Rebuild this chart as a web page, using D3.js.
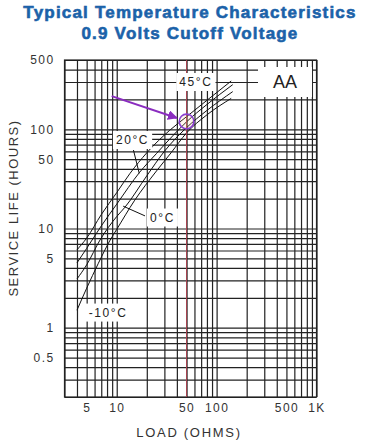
<!DOCTYPE html>
<html>
<head>
<meta charset="utf-8">
<script src="https://cdn.jsdelivr.net/npm/d3@7"></script>
<style>
  body { margin: 0; background: #fff; }
  svg text { font-family: "Liberation Sans", Arial, sans-serif; }
</style>
</head>
<body>
<div id="chart"></div>
<script>
// chart data
const titleLines = ["Typical Temperature Characteristics", "0.9 Volts Cutoff Voltage"];
const xTickValues = [5, 10, 50, 100, 500, 1000];
const xTickLabels = ["5", "10", "50", "100", "500", "1K"];
const yTickValues = [0.5, 1, 5, 10, 50, 100, 500];
const yTickLabels = ["0.5", "1", "5", "10", "50", "100", "500"];

const curveNames = ["45°C", "20°C", "0°C", "-10°C"];
const load45 = [4, 5, 7, 10, 13.6, 20, 34, 50, 80, 140];
const life45 = [6.1, 8.0, 13.8, 23, 36, 58, 98, 134, 196, 307];
const load20 = [4, 5, 7, 10, 17, 25, 34, 50, 80, 145];
const life20 = [4.5, 6.3, 10.6, 17.6, 37, 57, 80, 119, 178, 282];
const load0 = [4, 5, 6.8, 10, 12.1, 20, 30, 50, 80, 145];
const life0 = [3.1, 4.3, 7.65, 13.2, 16.4, 34, 60, 104, 155, 240];
const loadM10 = [4, 5, 6.55, 8.6, 10, 15, 25, 35, 50, 80, 140];
const lifeM10 = [1.5, 2.5, 4.46, 7.65, 9.8, 19, 38, 58, 92, 140, 205];

const markedLoad = 50;          // red reference line
const markedPoint = [50, 120];  // circled point
const arrowFrom = [8.9, 216];
const arrowTo = [40, 130];

const labelText = ["45°C", "20°C", "0°C", "-10°C", "AA"];
const labelLoad = [62, 14.4, 28.7, 8.2, 484];
const labelLife = [300, 78, 12.9, 1.42, 300];

// leader lines for 20°C and 0°C labels
const leader20 = [[14.7, 61.8], [16.8, 36]];
const leader0 = [[19.2, 13.4], [11.6, 16.8]];

// set the dimensions and margins of the graph
var margin = {top: 60, right: 55.5, bottom: 45, left: 64.5},
    width = 372 - margin.left - margin.right,
    height = 442 - margin.top - margin.bottom;

const svg = d3.select("#chart")
    .append("svg")
    .attr("width", 372)
    .attr("height", 442);

// title
svg.selectAll(".title")
    .data(titleLines)
    .enter()
    .append("text")
    .attr("class", "title")
    .attr("x", 190)
    .attr("y", (d, i) => 17.5 + i * 21)
    .attr("text-anchor", "middle")
    .style("font-size", "17px")
    .style("font-weight", "bold")
    .style("letter-spacing", "1.2px")
    .style("fill", "#1b62a9")
    .style("stroke", "#1b62a9")
    .style("stroke-width", 0.6)
    .text(d => d);

const g = svg.append("g")
    .attr("transform", "translate(" + margin.left + "," + margin.top + ")");

var x = d3.scaleLog().domain([3, 1000]).range([0, width]);
var y = d3.scaleLog().domain([0.2, 500]).range([height, 0]);

// grid
g.append("g")
    .attr("class", "grid")
    .attr("transform", "translate(0," + height + ")")
    .call(d3.axisBottom(x).tickValues(x.ticks()).tickSize(-height).tickFormat(""))
    .call(s => s.select(".domain").remove());

g.append("g")
    .attr("class", "grid")
    .call(d3.axisLeft(y).tickValues(y.ticks()).tickSize(-width).tickFormat(""))
    .call(s => s.select(".domain").remove());

g.selectAll(".grid line")
    .style("stroke", "#222")
    .style("stroke-width", 1.2);

g.append("rect")
    .attr("width", width)
    .attr("height", height)
    .style("fill", "none")
    .style("stroke", "#222")
    .style("stroke-width", 1.2);

// tick labels
const xAxis = g.append("g")
    .attr("transform", "translate(0," + height + ")")
    .call(d3.axisBottom(x).tickValues(xTickValues).tickSize(0).tickPadding(6)
        .tickFormat((d, i) => xTickLabels[i]));
xAxis.select(".domain").remove();

const yAxis = g.append("g")
    .call(d3.axisLeft(y).tickValues(yTickValues).tickSize(0).tickPadding(10)
        .tickFormat((d, i) => yTickLabels[i]));
yAxis.select(".domain").remove();

g.selectAll(".tick text")
    .style("font-size", "12px")
    .style("letter-spacing", "1.4px")
    .style("fill", "#333")
    .style("font-family", '"Liberation Sans", Arial, sans-serif');

// axis titles
svg.append("text")
    .attr("x", 189)
    .attr("y", 436.5)
    .attr("text-anchor", "middle")
    .style("font-size", "13px")
    .style("letter-spacing", "1.7px")
    .style("fill", "#333")
    .text("LOAD (OHMS)");

svg.append("text")
    .attr("transform", "translate(18,208) rotate(-90)")
    .attr("text-anchor", "middle")
    .style("font-size", "13px")
    .style("letter-spacing", "1.5px")
    .style("fill", "#333")
    .text("SERVICE LIFE (HOURS)");

// curves
const series = [
    {name: curveNames[0], load: load45, life: life45},
    {name: curveNames[1], load: load20, life: life20},
    {name: curveNames[2], load: load0, life: life0},
    {name: curveNames[3], load: loadM10, life: lifeM10}
];

var line = d3.line()
    .x(d => x(d[0]))
    .y(d => y(d[1]))
    .curve(d3.curveMonotoneX);

g.selectAll(".curve")
    .data(series)
    .enter()
    .append("path")
    .attr("class", "curve")
    .attr("d", d => line(d.load.map((v, i) => [v, d.life[i]])))
    .style("fill", "none")
    .style("stroke", "#111")
    .style("stroke-width", 1);

// red reference line
g.append("line")
    .attr("x1", x(markedLoad)).attr("x2", x(markedLoad))
    .attr("y1", 0).attr("y2", height)
    .style("stroke", "#a8404e")
    .style("stroke-width", 1);

// leader lines
[leader20, leader0].forEach(function(l) {
    g.append("line")
        .attr("x1", x(l[0][0])).attr("y1", y(l[0][1]))
        .attr("x2", x(l[1][0])).attr("y2", y(l[1][1]))
        .style("stroke", "#111")
        .style("stroke-width", 1);
});

// labels with white boxes
labelText.forEach(function(t, i) {
    var big = t === "AA";
    var lg = g.append("g");
    var txt = lg.append("text")
        .attr("x", x(labelLoad[i]))
        .attr("y", y(labelLife[i]))
        .attr("text-anchor", "middle")
        .attr("dominant-baseline", "central")
        .style("font-size", big ? "18px" : "12px")
        .style("letter-spacing", big ? "0px" : "1.6px")
        .style("fill", "#222")
        .text(t);
    var bb = txt.node().getBBox();
    var px = big ? 15 : 3, py = big ? 5 : 2;
    lg.insert("rect", "text")
        .attr("x", bb.x - px)
        .attr("y", bb.y - py)
        .attr("width", bb.width + 2 * px)
        .attr("height", bb.height + 2 * py)
        .style("fill", "#fff");
});

// circled point and arrow
svg.append("defs").append("marker")
    .attr("id", "arrowhead")
    .attr("viewBox", "0 0 10 10")
    .attr("refX", 9).attr("refY", 5)
    .attr("markerWidth", 5).attr("markerHeight", 5)
    .attr("orient", "auto")
    .append("path")
    .attr("d", "M0,0 L10,5 L0,10 z")
    .style("fill", "#8a2cbf");

g.append("line")
    .attr("x1", x(arrowFrom[0])).attr("y1", y(arrowFrom[1]))
    .attr("x2", x(arrowTo[0])).attr("y2", y(arrowTo[1]))
    .attr("marker-end", "url(#arrowhead)")
    .style("stroke", "#8a2cbf")
    .style("stroke-width", 2);

g.append("circle")
    .attr("cx", x(markedPoint[0]))
    .attr("cy", y(markedPoint[1]))
    .attr("r", 7.3)
    .style("fill", "rgba(255,200,140,0.15)")
    .style("stroke", "#8a3fd0")
    .style("stroke-width", 1.6);
</script>
</body>
</html>
